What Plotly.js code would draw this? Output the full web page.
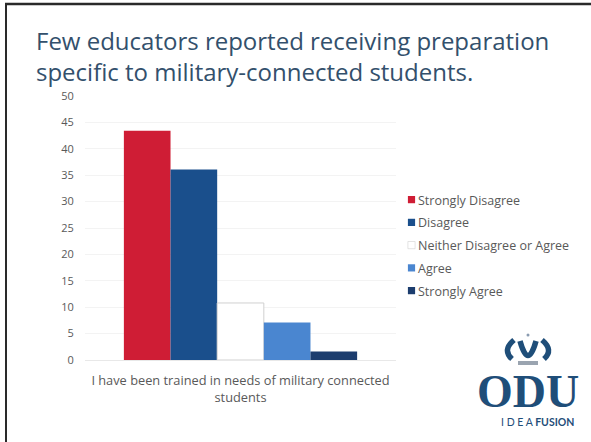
<!DOCTYPE html>
<html>
<head>
<meta charset="utf-8">
<script src="https://cdn.plot.ly/plotly-3.0.1.min.js"></script>
<style>
  html, body { margin: 0; padding: 0; background: #ffffff; }
  #chart { width: 591px; height: 442px; }
  #chart .legend .legendpoints path {
    transform-box: fill-box;
    transform-origin: center;
    transform: translateX(33.5px) scale(0.6);
  }
</style>
</head>
<body>
<div id="chart"></div>
<script>
// ---- data ----
const category = ["I have been trained in needs of military connected<br>students"];
const seriesNames = ["Strongly Disagree", "Disagree", "Neither Disagree or Agree", "Agree", "Strongly Agree"];
const seriesValues = [43.4, 36.1, 10.8, 7.1, 1.6];
const seriesColors = ["#cf1d35", "#1a4f8c", "#ffffff", "#4a86d0", "#1c3d6e"];
const seriesLines = ["#cf1d35", "#1a4f8c", "#d0d0d0", "#4a86d0", "#1c3d6e"];
const yTicks = [0, 5, 10, 15, 20, 25, 30, 35, 40, 45, 50];
const titleText = "Few educators reported receiving preparation<br>specific to military-connected students.";

// ---- layout geometry ----
const W = 591, H = 442;
const M = { l: 85, r: 195, t: 96, b: 82 };
const PW = W - M.l - M.r, PH = H - M.t - M.b;
const px = x => (x - M.l) / PW;
const py = y => (H - M.b - y) / PH;
function path(pts) {
  return pts.map(p => p[0] + (p.length > 1 ? " " + p.slice(1).map((v, i) => (i % 2 === 0 ? px(v) : py(v)).toFixed(4)).join(" ") : "")).join(" ");
}

const traces = seriesNames.map((name, i) => ({
  type: "bar",
  name: name,
  x: category,
  y: [seriesValues[i]],
  legendgroup: "g" + i,
  marker: { color: seriesColors[i], line: { color: seriesLines[i], width: i === 2 ? 1 : 0 } },
  hoverinfo: "name+y"
}));

const logoBlue = "#1f4e79";
const shapes = [
  // slide border (left and top)
  { type: "line", xref: "paper", yref: "paper", x0: px(6), x1: px(6), y0: py(3), y1: py(442), line: { color: "#2a2a2a", width: 2 } },
  { type: "line", xref: "paper", yref: "paper", x0: px(5), x1: px(591), y0: py(4), y1: py(4), line: { color: "#2a2a2a", width: 2.5 } },
  // crown logo
  { type: "path", xref: "paper", yref: "paper", path: path([["M", 514, 340], ["Q", 502, 350, 512, 359]]), line: { color: logoBlue, width: 5.5 } },
  { type: "path", xref: "paper", yref: "paper", path: path([["M", 520, 341], ["Q", 528, 370, 536, 341]]), line: { color: logoBlue, width: 5.5 } },
  { type: "path", xref: "paper", yref: "paper", path: path([["M", 542, 340], ["Q", 554, 350, 544, 359]]), line: { color: logoBlue, width: 5.5 } },
  { type: "circle", xref: "paper", yref: "paper", x0: px(526.5), x1: px(529.5), y0: py(333.5), y1: py(336.5), fillcolor: "#8a9bb0", line: { width: 0 } },
  { type: "rect", xref: "paper", yref: "paper", x0: px(518), x1: px(538), y0: py(361), y1: py(365), fillcolor: "#9aa4b0", line: { width: 0 } }
];

const annotations = [
  { xref: "paper", yref: "paper", x: px(528), y: py(391), xanchor: "center", yanchor: "middle", showarrow: false,
    text: "<b>ODU</b>", font: { family: "Liberation Serif, DejaVu Serif, serif", size: 46, color: logoBlue } },
  { xref: "paper", yref: "paper", x: px(537), y: py(422), xanchor: "center", yanchor: "middle", showarrow: false,
    text: "I D E A <b>FUSION</b>", font: { family: "Lato, Open Sans, sans-serif", size: 10.5, color: logoBlue } }
];

const layout = {
  width: W, height: H,
  margin: M,
  paper_bgcolor: "#ffffff", plot_bgcolor: "#ffffff",
  font: { family: "Open Sans, Lato, sans-serif", color: "#595959", size: 11 },
  title: {
    text: titleText,
    xref: "container", yref: "container",
    x: 36 / W, xanchor: "left",
    y: 1 - 50 / H, yanchor: "top",
    font: { family: "Open Sans, Lato, sans-serif", size: 24, color: "#33506c" }
  },
  barmode: "group", bargap: 0.25, bargroupgap: 0,
  xaxis: {
    type: "category",
    showline: true, linecolor: "#e8e8e8", linewidth: 1,
    ticks: "outside", ticklen: 9, tickcolor: "rgba(0,0,0,0)",
    tickfont: { family: "Open Sans, Lato, sans-serif", size: 12.8, color: "#595959" },
    fixedrange: true
  },
  yaxis: {
    range: [0, 50], tickvals: yTicks, ticktext: yTicks.map(String),
    showgrid: true, gridcolor: "#f3f3f3", zeroline: false,
    ticks: "outside", ticklen: 8, tickcolor: "rgba(0,0,0,0)",
    tickfont: { size: 11, color: "#595959" },
    fixedrange: true
  },
  showlegend: true,
  legend: {
    x: px(378), xanchor: "left", y: py(185), yanchor: "top",
    font: { family: "Open Sans, Lato, sans-serif", size: 12.5, color: "#595959" },
    traceorder: "grouped", tracegroupgap: 3.5,
    bgcolor: "rgba(0,0,0,0)"
  },
  shapes: shapes,
  annotations: annotations
};

Plotly.newPlot("chart", traces, layout, { displayModeBar: false, staticPlot: true });
</script>
</body>
</html>
